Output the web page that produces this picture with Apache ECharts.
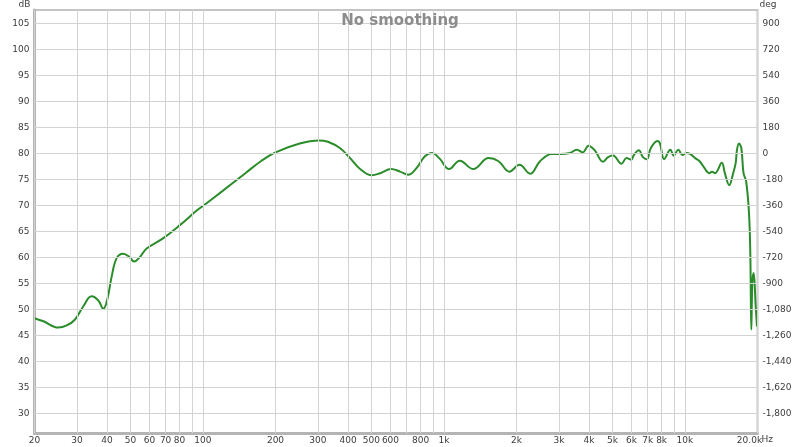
<!DOCTYPE html>
<html><head><meta charset="utf-8">
<script src="https://cdn.jsdelivr.net/npm/echarts@6/dist/echarts.min.js"></script>
<style>html,body{margin:0;padding:0;background:#fff}#c{width:800px;height:447px}</style>
</head><body><div id="c"></div>
<script>
const freqHz = [20, 21.8, 25.1, 27.2, 29.4, 31.9, 34.5, 36.8, 38.6, 40.1, 41.8, 43.9, 46.7, 49.5, 51.8, 54.8, 58.4, 68.5, 80.7, 94.2, 100, 120, 150, 175, 200, 252, 302, 330, 371, 408, 449, 502, 544, 604, 658, 710, 770, 832, 892, 960, 1050, 1162, 1324, 1532, 1685, 1870, 2058, 2278, 2504, 2800, 3030, 3338, 3558, 3766, 3980, 4226, 4572, 4800, 5030, 5448, 5720, 5990, 6120, 6440, 6690, 6950, 7210, 7684, 7880, 8196, 8700, 8980, 9380, 9770, 10150, 10500, 11020, 11500, 11920, 12620, 12950, 13340, 14220, 14640, 15260, 15850, 16240, 16440, 16760, 17140, 17500, 17950, 18440, 18680, 18850, 19040, 19280, 19660, 19900];
const levelDb = [48.3, 47.7, 46.5, 46.9, 48.0, 50.6, 52.5, 51.7, 50.1, 51.9, 56.3, 59.9, 60.7, 60.1, 59.2, 60.1, 61.7, 63.7, 66.3, 69.0, 69.9, 72.7, 76.2, 78.6, 80.2, 81.9, 82.5, 82.25, 81.0, 79.1, 77.0, 75.8, 76.2, 77.0, 76.5, 75.9, 77.2, 79.4, 80.1, 79.0, 77.0, 78.6, 77.0, 79.1, 78.5, 76.5, 77.8, 76.1, 78.5, 79.9, 79.9, 80.1, 80.7, 80.2, 81.5, 80.6, 78.4, 79.3, 79.6, 78.0, 79.1, 78.8, 79.6, 80.6, 79.3, 78.9, 81.0, 82.4, 81.9, 78.9, 80.7, 79.6, 80.7, 79.7, 80.1, 79.9, 79.1, 78.5, 77.5, 76.2, 76.5, 76.2, 78.2, 76.2, 73.9, 76.2, 78.2, 80.7, 81.9, 81.0, 76.2, 74.6, 68.5, 60.2, 46.1, 55.1, 57.0, 50.6, 46.7];

const xGridHz = [20, 30, 40, 50, 60, 70, 80, 90, 100, 200, 300, 400, 500, 600, 700, 800, 900, 1000, 2000, 3000, 4000, 5000, 6000, 7000, 8000, 9000, 10000, 20000];
const xLabelHz = [20, 30, 40, 50, 60, 70, 80, 100, 200, 300, 400, 500, 600, 800, 1000, 2000, 3000, 4000, 5000, 6000, 7000, 8000, 10000, 20000];
const dbTicks = [30, 35, 40, 45, 50, 55, 60, 65, 70, 75, 80, 85, 90, 95, 100, 105];
const degTicks = [-1800, -1620, -1440, -1260, -1080, -900, -720, -540, -360, -180, 0, 180, 360, 540, 720, 900];
const dbRange = [26.15, 107.6];
const hzRange = [20, 20000];
const degPerDb = 36, degZeroDb = 80;

function fmtHz(f) {
  if (f >= 20000) return (f / 1000).toFixed(1) + 'k';
  if (f >= 1000) return (f / 1000) + 'k';
  return String(f);
}

const gridColor = '#d3d3d3';
const labelStyle = { color: '#3c3c3c', fontSize: 9, fontFamily: 'DejaVu Sans' };

const vLines = xGridHz.map(f => [
  { coord: [f, dbRange[0]],
    label: xLabelHz.includes(f)
      ? { show: true, position: 'start', formatter: fmtHz(f), padding: f >= 20000 ? [0, 16, 0, 0] : 0 }
      : { show: false } },
  { coord: [f, dbRange[1]] }
]);
const hLines = dbTicks.map(v => [
  { coord: [hzRange[0], v], label: { show: false } },
  { coord: [hzRange[1], v] }
]);

const chart = echarts.init(document.getElementById('c'), null, { renderer: 'canvas' });
chart.setOption({
  animation: false,
  backgroundColor: '#fff',
  title: {
    text: 'No smoothing', left: 'center', top: 9,
    textStyle: { color: '#8c8c8c', fontSize: 15, fontWeight: 'bold', fontFamily: 'DejaVu Sans' }
  },
  grid: { left: 34.5, right: 42.5, top: 9.5, bottom: 13.7, show: true, borderColor: '#c4c4c4', borderWidth: 2 },
  xAxis: {
    type: 'log', logBase: 10, min: hzRange[0], max: hzRange[1],
    name: 'Hz', nameLocation: 'end', nameGap: 4,
    nameTextStyle: Object.assign({}, labelStyle, { verticalAlign: 'top', padding: [2, 0, 0, 0] }),
    axisLine: { show: true, onZero: false, lineStyle: { color: '#b4b4b4', width: 3 } },
    axisTick: { show: false }, axisLabel: { show: false }, splitLine: { show: false }
  },
  yAxis: [{
    type: 'value', min: dbRange[0], max: dbRange[1], position: 'left',
    name: 'dB', nameLocation: 'end', nameGap: 1,
    nameTextStyle: Object.assign({}, labelStyle, { align: 'right', padding: [0, 4, 0, 0] }),
    axisLine: { show: true, onZero: false, lineStyle: { color: '#b4b4b4', width: 3 } },
    axisTick: { show: false }, splitLine: { show: false },
    axisLabel: Object.assign({}, labelStyle, { customValues: dbTicks, margin: 5 })
  }, {
    type: 'value', min: (dbRange[0] - degZeroDb) * degPerDb, max: (dbRange[1] - degZeroDb) * degPerDb, position: 'right',
    name: 'deg', nameLocation: 'end', nameGap: 1,
    nameTextStyle: Object.assign({}, labelStyle, { align: 'left', padding: [0, 0, 0, 2] }),
    axisLine: { show: false, onZero: false }, axisTick: { show: false }, splitLine: { show: false },
    axisLabel: Object.assign({}, labelStyle, { customValues: degTicks, margin: 5,
      formatter: v => Number(v).toLocaleString('en-US') })
  }],
  series: [{
    type: 'line', data: [], z: 1, silent: true,
    markLine: {
      silent: true, symbol: ['none', 'none'], animation: false,
      lineStyle: { color: gridColor, width: 1, type: 'solid' },
      emphasis: { disabled: true },
      label: Object.assign({}, labelStyle, { position: 'start', distance: 3 }),
      data: vLines.concat(hLines)
    }
  }, {
    type: 'line', z: 3, showSymbol: false, smooth: 0.4,
    data: freqHz.map((f, i) => [f, levelDb[i]]),
    lineStyle: { color: '#2a8c2a', width: 2 },
    itemStyle: { color: '#2a8c2a' }
  }]
});
</script>
</body></html>
